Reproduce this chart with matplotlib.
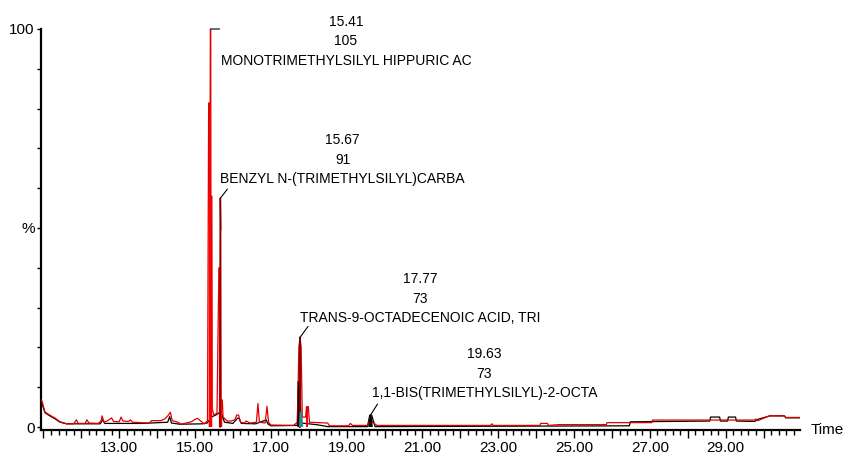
import matplotlib.pyplot as plt
import matplotlib.ticker as mtick

nan = float("nan")

# --- chromatogram traces (retention time in min, relative abundance %) ---
red_t = [10.95, 10.98, 11.04, 11.10, 11.17, 11.24, 11.30, 11.37, 11.44, 11.52, 11.61,
         11.80, 11.87, 11.92, 12.10, 12.15, 12.20, 12.45, 12.52, 12.55, 12.60, 12.70,
         12.80, 12.85, 13.00, 13.05, 13.10, 13.25, 13.30, 13.35, 13.80, 13.85, 14.10,
         14.20, 14.30, 14.35, 14.40, 14.55, 14.63, 14.90, 15.00, 15.07, 15.15, 15.25,
         15.33, 15.36, 15.40, 15.405, 15.415, 15.42, 15.445, 15.455, 15.50, 15.58,
         15.63, 15.665, 15.67, 15.68, 15.69, 15.72, 15.74, 15.85, 15.95, 16.05, 16.10,
         16.15, 16.20, 16.30, 16.35, 16.45, 16.62, 16.66, 16.70, 16.85, 16.90, 16.94,
         17.00, 17.60, 17.70, 17.74, 17.77, 17.80, 17.83, 17.92, 17.94, 17.99, 18.02,
         18.50, 18.55, 19.05, 19.10, 19.15, 19.55, 19.60, 19.63, 19.68, 19.80, 22.80,
         22.83, 22.87, 24.10, 24.12, 24.30, 24.32, 24.60, 25.85, 25.87, 27.05, 27.07,
         29.75, 29.80, 29.85, 29.95, 30.15, 30.55, 30.58, 30.96]
red_y = [6.8, 6.0, 3.8, 3.4, 3.0, 2.6, 2.3, 1.8, 1.3, 1.1, 0.8,
         0.8, 1.8, 0.9, 0.9, 1.8, 1.0, 0.9, 1.5, 2.8, 1.2, 1.6,
         2.3, 1.4, 1.3, 2.5, 1.5, 1.4, 1.8, 1.2, 1.0, 1.6, 1.6,
         2.0, 3.0, 3.7, 1.6, 1.2, 0.7, 1.3, 1.9, 2.2, 1.5, 0.8,
         1.6, 81.4, 81.4, 100, 100, 58, 58, 4.5, 3.0, 3.5,
         40, 40, 57.5, 49.5, 6.8, 6.8, 2.5, 1.5, 1.5, 1.8, 3.0,
         3.0, 1.2, 1.0, 1.5, 1.0, 1.2, 5.9, 1.2, 1.0, 5.2, 1.2,
         0.5, 0.4, 1.2, 20, 22.5, 20, 2.5, 2.5, 5.1, 5.1, 1.2,
         1.0, 0.3, 0.3, 0.9, 0.4, 0.4, 1.5, 2.5, 1.2, 0.4, 0.4,
         0.8, 0.4, 0.4, 0.9, 0.9, 0.4, 0.6, 0.6, 1.1, 1.1, 1.75,
         1.75, 2.0, 1.6, 2.0, 2.8, 2.8, 2.4, 2.4]

black_t = [10.95, 11.04, 11.17, 11.30, 11.44, 11.61, 12.50, 12.56, 12.62, 13.60, 14.28,
           14.33, 14.38, 14.60, 15.20, 15.32, 15.45, 15.55, 15.64, 15.70, 15.78, 16.00,
           16.12, 16.16, 16.22, 16.60, 16.88, 16.92, 17.00, 17.70, 17.72, 17.76, 17.80,
           18.20, 18.50, 19.55, 19.61, 19.66, 19.75, 26.46, 26.48, 28.58, 28.60, 28.84,
           28.86, 29.05, 29.07, 29.26, 29.28, 29.77, 29.84, 30.17, 30.55, 30.58, 30.96]
black_y = [6.4, 3.6, 2.8, 2.1, 1.2, 0.8, 0.8, 1.8, 0.9, 0.9, 1.2,
           2.6, 1.0, 0.7, 0.8, 1.0, 2.6, 3.0, 3.6, 3.2, 1.2, 0.9,
           2.2, 2.2, 0.9, 0.8, 1.8, 0.8, 0.3, 0.4, 11.4, 11.4, 1.0,
           0.6, 0.1, 0.1, 3.0, 3.0, 0.1, 0.3, 1.3, 1.5, 2.5, 2.5,
           1.5, 1.5, 2.5, 2.5, 1.5, 1.4, 1.9, 2.8, 2.8, 2.3, 2.3]

# black filled peak cores (17.77 and 19.63)
dark_t = [17.70, 17.72, 17.76, 17.78, nan, 19.57, 19.61, 19.66, 19.69]
dark_y = [0.0, 11.4, 11.4, 0.0, nan, 0.0, 3.0, 3.0, 0.0]
# dark red overlay on the 15.67 and 17.77 peaks, teal shoulder at 17.8
maroon_t = [15.662, 15.668, 15.672, 15.678, nan, 17.755, 17.762, 17.772, 17.778]
maroon_y = [0.0, 57.5, 57.5, 49.5, nan, 0.0, 22.5, 22.5, 0.0]
teal_t = [17.74, 17.76, 17.83, 17.85]
teal_y = [0.0, 3.8, 3.8, 0.0]

# --- peak labels ---
peak_rt = [15.41, 15.67, 17.77, 19.63]
peak_top = [100, 57.5, 22.5, 3.0]
peak_mz = ["105", "91", "73", "73"]
peak_name = ["MONOTRIMETHYLSILYL HIPPURIC AC",
             "BENZYL N-(TRIMETHYLSILYL)CARBA",
             "TRANS-9-OCTADECENOIC ACID, TRI",
             "1,1-BIS(TRIMETHYLSILYL)-2-OCTA"]
# leader end / text baseline offsets in pixels from the peak top
leader_off = [(9, 0), (7, 9), (8, 11), (7, 11)]
text_off = [(10, -36), (0, 15), (0, 15), (1, 18)]

plt.rcParams["font.family"] = ["Liberation Sans", "DejaVu Sans"]

fig = plt.figure(figsize=(8.43, 4.57), dpi=100)
ax = fig.add_axes([0.0492, 0.0591, 0.8998, 0.8775])

ax.plot(black_t, black_y, color="black", linewidth=0.9, zorder=2)
ax.fill_between(red_t, 0, red_y,
                where=[v > 3.8 and t > 11.5 for t, v in zip(red_t, red_y)],
                color="#ff0000", linewidth=0, zorder=3)
ax.plot(red_t, red_y, color="#e00000", linewidth=0.9, zorder=4)
ax.fill(dark_t, dark_y, color="black", linewidth=0, zorder=5)
ax.plot(maroon_t, maroon_y, color="#7a0000", linewidth=1.0, zorder=6)
ax.fill(teal_t, teal_y, color="#2a8a8a", linewidth=0, zorder=6)

for i in range(len(peak_rt)):
    ax.annotate("", xy=(peak_rt[i], peak_top[i]), xytext=leader_off[i],
                textcoords="offset pixels",
                arrowprops=dict(arrowstyle="-", color="black", lw=0.8,
                                shrinkA=0, shrinkB=0), zorder=7)
    ax.annotate(f"{peak_rt[i]:.2f}\n{peak_mz[i]}\n{peak_name[i]}",
                xy=(peak_rt[i], peak_top[i]), xytext=text_off[i],
                textcoords="offset pixels", ha="left", va="baseline",
                multialignment="center", fontsize=10, linespacing=1.5,
                zorder=7, annotation_clip=False)

ax.set_xlim(10.95, 30.96)
ax.set_ylim(-0.75, 100)

ax.xaxis.set_major_locator(mtick.MultipleLocator(1))
ax.xaxis.set_minor_locator(mtick.MultipleLocator(0.2))
ax.xaxis.set_major_formatter(mtick.FuncFormatter(
    lambda x, _: f"{x:.2f}" if round(x) % 2 == 1 and 12 < x < 30 else ""))
ax.yaxis.set_major_locator(mtick.FixedLocator([0, 50, 100]))
ax.yaxis.set_minor_locator(mtick.MultipleLocator(10))
ax.yaxis.set_major_formatter(mtick.FixedFormatter(["0", "%", "100"]))

ax.tick_params(axis="x", which="major", length=6, width=1, labelsize=11, pad=2)
ax.tick_params(axis="x", which="minor", length=3.5, width=1)
ax.tick_params(axis="y", which="both", length=3, width=1, labelsize=11, pad=2)

for side in ["top", "right"]:
    ax.spines[side].set_visible(False)
for side in ["left", "bottom"]:
    ax.spines[side].set_linewidth(1.6)

fig.text(811 / 843, 1 - 430 / 457, "Time", fontsize=11, ha="left", va="center")

plt.savefig("out.png", dpi=100)
plt.close()
